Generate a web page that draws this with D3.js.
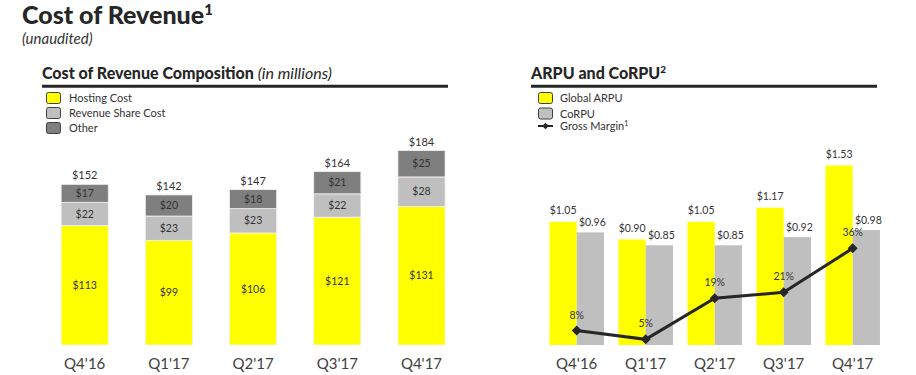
<!DOCTYPE html>
<html>
<meta charset="utf-8">
<head>
<title>Cost of Revenue</title>
<script src="https://cdnjs.cloudflare.com/ajax/libs/d3/7.8.5/d3.min.js"></script>
<style>
    body { margin: 0; background: #fff; }
    text { font-family: Lato, "Open Sans", sans-serif; }
</style>
</head>

<body>
<script>

const width = 916,
    height = 375;

// Data
const quarters = ["Q4'16", "Q1'17", "Q2'17", "Q3'17", "Q4'17"];
const hostingCost = [113, 99, 106, 121, 131];
const revenueShareCost = [22, 23, 23, 22, 28];
const otherCost = [17, 20, 18, 21, 25];
const totalCost = [152, 142, 147, 164, 184];

const globalArpu = [1.05, 0.90, 1.05, 1.17, 1.53];
const corpu = [0.96, 0.85, 0.85, 0.92, 0.98];
const grossMargin = [8, 5, 19, 21, 36];

const stackKeys = ["hosting", "revShare", "other"];
const stackColours = {hosting: "#ffff00", revShare: "#bfbfbf", other: "#7f7f7f"};
const stackNames = ["Hosting Cost", "Revenue Share Cost", "Other"];

const svg = d3.select("body")
    .append("svg")
    .attr("width", width)
    .attr("height", height);

// Page title
const title = svg.append("text")
    .attr("x", 22)
    .attr("y", 24)
    .attr("font-size", "25px")
    .attr("font-weight", 900)
    .attr("fill", "#262626")
    .text("Cost of Revenue");
title.append("tspan")
    .attr("font-size", "15px")
    .attr("dy", -9)
    .text("1");
svg.append("text")
    .attr("x", 22)
    .attr("y", 44)
    .attr("font-size", "15px")
    .attr("font-style", "italic")
    .attr("fill", "#333")
    .text("(unaudited)");

// ---------- Left: cost of revenue composition ----------
const leftTitle = svg.append("text")
    .attr("x", 42)
    .attr("y", 79)
    .attr("font-size", "16px")
    .attr("font-weight", 900)
    .attr("fill", "#262626")
    .text("Cost of Revenue Composition ");
leftTitle.append("tspan")
    .attr("font-weight", 400)
    .attr("font-style", "italic")
    .text("(in millions)");
svg.append("line")
    .attr("x1", 42).attr("x2", 448)
    .attr("y1", 86.3).attr("y2", 86.3)
    .attr("stroke", "#262626")
    .attr("stroke-width", 3);

// legend
const leftLegend = svg.selectAll(".leftLegend")
    .data(stackKeys)
    .enter()
    .append("g")
    .attr("transform", (d, i) => `translate(46, ${92 + i * 15})`);
leftLegend.append("rect")
    .attr("x", 0.5).attr("y", 0.5)
    .attr("width", 14).attr("height", 11)
    .attr("rx", 2)
    .attr("fill", d => stackColours[d])
    .attr("stroke", "#404040");
leftLegend.append("text")
    .attr("x", 23)
    .attr("y", 10)
    .attr("font-size", "11px")
    .attr("fill", "#333")
    .text((d, i) => stackNames[i]);

const costRows = quarters.map((q, i) => ({
    quarter: q,
    hosting: hostingCost[i],
    revShare: revenueShareCost[i],
    other: otherCost[i],
    total: totalCost[i]
}));

const xLeft = d3.scaleBand()
    .domain(quarters)
    .range([42.6, 463.6])
    .paddingInner(0.44)
    .paddingOuter(0.22);

const yLeft = d3.scaleLinear()
    .domain([0, 200])
    .range([345, 345 - 211.4]);

const series = d3.stack().keys(stackKeys)(costRows);

const layers = svg.selectAll(".layer")
    .data(series)
    .enter()
    .append("g")
    .attr("fill", d => stackColours[d.key]);

layers.selectAll("rect")
    .data(d => d)
    .enter()
    .append("rect")
    .attr("x", d => xLeft(d.data.quarter))
    .attr("y", d => yLeft(d[1]))
    .attr("width", xLeft.bandwidth())
    .attr("height", d => yLeft(d[0]) - yLeft(d[1]))
    .attr("stroke", "#f2f2f2")
    .attr("stroke-width", 0.8);

layers.selectAll("text")
    .data(d => d.map(v => ({v: v, key: d.key})))
    .enter()
    .append("text")
    .attr("x", d => xLeft(d.v.data.quarter) + xLeft.bandwidth() / 2)
    .attr("y", d => (yLeft(d.v[0]) + yLeft(d.v[1])) / 2)
    .attr("dy", "0.35em")
    .attr("text-anchor", "middle")
    .attr("font-size", "10.5px")
    .attr("fill", "#333")
    .text(d => "$" + d.v.data[d.key]);

svg.selectAll(".totalLabel")
    .data(costRows)
    .enter()
    .append("text")
    .attr("x", d => xLeft(d.quarter) + xLeft.bandwidth() / 2)
    .attr("y", d => yLeft(d.total) - 5)
    .attr("text-anchor", "middle")
    .attr("font-size", "11px")
    .attr("fill", "#333")
    .text(d => "$" + d.total);

svg.selectAll(".leftTick")
    .data(quarters)
    .enter()
    .append("text")
    .attr("x", d => xLeft(d) + xLeft.bandwidth() / 2)
    .attr("y", 369)
    .attr("text-anchor", "middle")
    .attr("font-size", "15px")
    .attr("fill", "#404040")
    .text(d => d);

// ---------- Right: ARPU and CoRPU ----------
const rightTitle = svg.append("text")
    .attr("x", 531)
    .attr("y", 79)
    .attr("font-size", "16px")
    .attr("font-weight", 900)
    .attr("fill", "#262626")
    .text("ARPU and CoRPU");
rightTitle.append("tspan")
    .attr("font-size", "10px")
    .attr("dy", -6)
    .text("2");
svg.append("line")
    .attr("x1", 531).attr("x2", 877)
    .attr("y1", 86.3).attr("y2", 86.3)
    .attr("stroke", "#262626")
    .attr("stroke-width", 3);

const rightLegend = svg.selectAll(".rightLegend")
    .data([{name: "Global ARPU", colour: "#ffff00"}, {name: "CoRPU", colour: "#bfbfbf"}])
    .enter()
    .append("g")
    .attr("transform", (d, i) => `translate(538, ${92 + i * 15.5})`);
rightLegend.append("rect")
    .attr("x", 0.5).attr("y", 0.5)
    .attr("width", 14).attr("height", 11)
    .attr("rx", 2)
    .attr("fill", d => d.colour)
    .attr("stroke", "#404040");
rightLegend.append("text")
    .attr("x", 22)
    .attr("y", 10)
    .attr("font-size", "11px")
    .attr("fill", "#333")
    .text(d => d.name);

svg.append("line")
    .attr("x1", 538).attr("x2", 553)
    .attr("y1", 126).attr("y2", 126)
    .attr("stroke", "#262626")
    .attr("stroke-width", 2);
svg.append("path")
    .attr("d", d3.symbol().type(d3.symbolSquare).size(22))
    .attr("transform", "translate(545.5,126) rotate(45)")
    .attr("fill", "#262626");
const gmLegend = svg.append("text")
    .attr("x", 560)
    .attr("y", 130)
    .attr("font-size", "11px")
    .attr("fill", "#333")
    .text("Gross Margin");
gmLegend.append("tspan")
    .attr("font-size", "7px")
    .attr("dy", -4)
    .text("1");

const xRight = d3.scaleBand()
    .domain(quarters)
    .range([542.2, 887.2])
    .paddingInner(0.21)
    .paddingOuter(0.105);

const xSub = d3.scaleBand()
    .domain(["arpu", "corpu"])
    .range([0, xRight.bandwidth()]);

const yRight = d3.scaleLinear()
    .domain([0, 2])
    .range([345, 345 - 234.6]);

const yMargin = d3.scaleLinear()
    .domain([0, 40])
    .range([354, 236.6]);

const unitRows = quarters.map((q, i) => ({
    quarter: q,
    values: [
        {key: "arpu", value: globalArpu[i], colour: "#ffff00", dy: -7.5},
        {key: "corpu", value: corpu[i], colour: "#bfbfbf", dy: -6.5}
    ],
    margin: grossMargin[i]
}));

const groups = svg.selectAll(".group")
    .data(unitRows)
    .enter()
    .append("g")
    .attr("transform", d => `translate(${xRight(d.quarter)},0)`);

groups.selectAll("rect")
    .data(d => d.values)
    .enter()
    .append("rect")
    .attr("x", d => xSub(d.key))
    .attr("y", d => yRight(d.value))
    .attr("width", xSub.bandwidth())
    .attr("height", d => yRight(0) - yRight(d.value))
    .attr("fill", d => d.colour);

groups.selectAll("text")
    .data(d => d.values)
    .enter()
    .append("text")
    .attr("x", d => xSub(d.key) + xSub.bandwidth() / 2 + (d.key === "corpu" ? 2 : 0))
    .attr("y", d => yRight(d.value) + d.dy)
    .attr("text-anchor", "middle")
    .attr("font-size", "10.5px")
    .attr("fill", "#333")
    .text(d => "$" + d.value.toFixed(2));

// gross margin line
const line = d3.line()
    .x(d => xRight(d.quarter) + xRight.bandwidth() / 2)
    .y(d => yMargin(d.margin));

svg.append("path")
    .datum(unitRows)
    .attr("d", line)
    .attr("fill", "none")
    .attr("stroke", "#262626")
    .attr("stroke-width", 3);

svg.selectAll(".marker")
    .data(unitRows)
    .enter()
    .append("path")
    .attr("d", d3.symbol().type(d3.symbolSquare).size(50))
    .attr("transform", d => `translate(${xRight(d.quarter) + xRight.bandwidth() / 2},${yMargin(d.margin)}) rotate(45)`)
    .attr("fill", "#262626");

svg.selectAll(".marginLabel")
    .data(unitRows)
    .enter()
    .append("text")
    .attr("x", d => xRight(d.quarter) + xRight.bandwidth() / 2)
    .attr("y", d => yMargin(d.margin) - 12)
    .attr("text-anchor", "middle")
    .attr("font-size", "10.5px")
    .attr("fill", "#333")
    .text(d => d.margin + "%");

svg.selectAll(".rightTick")
    .data(quarters)
    .enter()
    .append("text")
    .attr("x", d => xRight(d) + xRight.bandwidth() / 2)
    .attr("y", 369)
    .attr("text-anchor", "middle")
    .attr("font-size", "15px")
    .attr("fill", "#404040")
    .text(d => d);

</script>

</body>
</html>
